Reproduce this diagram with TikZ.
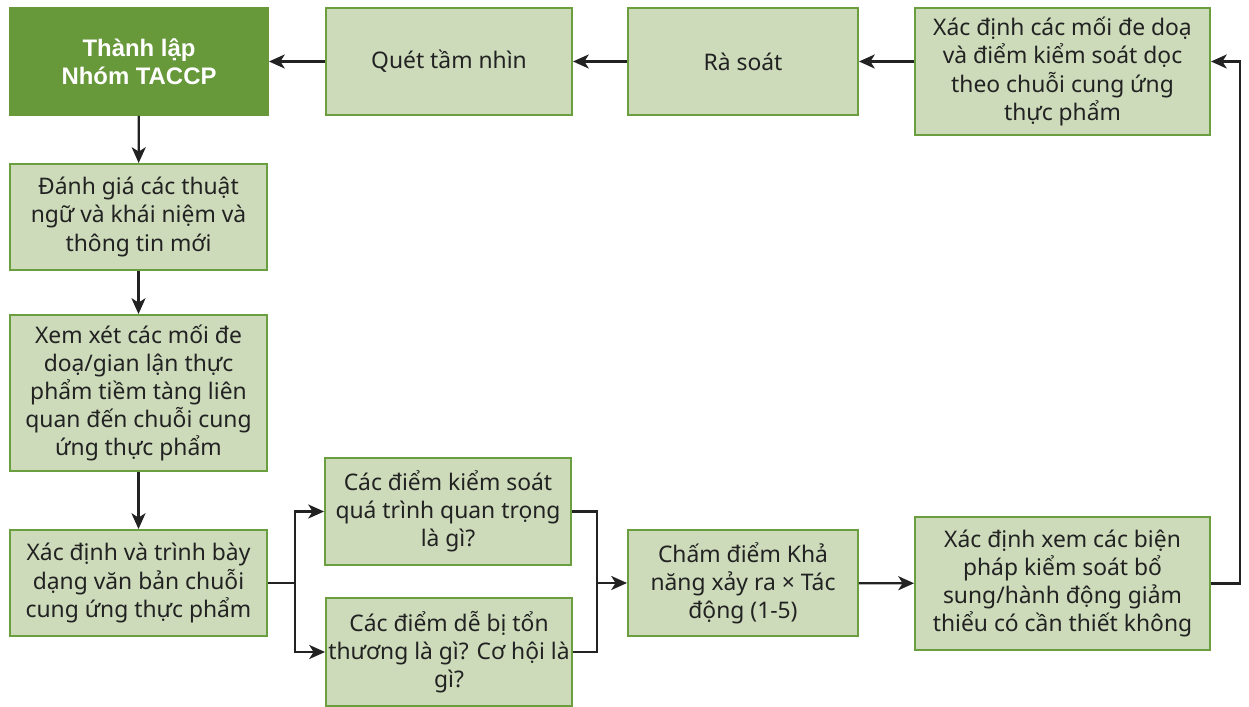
\documentclass[tikz,border=0pt]{standalone}
\usepackage{fontspec}
\setmainfont{Noto Sans}
\newfontfamily\headfont{Liberation Sans}
\usetikzlibrary{arrows.meta}
\definecolor{leafgreen}{HTML}{67983A}
\definecolor{palegreen}{HTML}{CDDBBA}
\definecolor{edgegreen}{HTML}{6B9E3F}
\definecolor{inkgray}{HTML}{222222}

\begin{document}
\begin{tikzpicture}[
  box/.style={draw=edgegreen, line width=1.1pt, fill=palegreen, text=inkgray,
    align=center, inner xsep=0pt, inner ysep=2pt, font=\fontsize{13}{16}\selectfont},
  head/.style={box, fill=leafgreen, draw=leafgreen, text=white,
    font=\fontsize{13.6}{16}\selectfont\headfont\bfseries},
  flow/.style={-{Stealth[length=9pt,width=8pt,inset=2.5pt]}, line width=1.3pt, draw=inkgray},
  link/.style={line width=1.3pt, draw=inkgray}]
\useasboundingbox (0,0) rectangle (24.98,14.12);
% top row
\node[head, minimum width=5.16cm, minimum height=2.14cm] (taccp) at (2.78,12.89) {Thành lập\\Nhóm TACCP};
\node[box, minimum width=4.92cm, minimum height=2.14cm] (quet) at (8.98,12.89) {Quét tầm nhìn};
\node[box, minimum width=4.6cm, minimum height=2.14cm] (rasoat) at (14.86,12.89) {Rà soát};
\node[box, minimum width=5.9cm, minimum height=2.54cm] (doa) at (21.25,12.69) {Xác định các mối đe doạ\\và điểm kiểm soát dọc\\theo chuỗi cung ứng\\thực phẩm};
% left column
\node[box, minimum width=5.14cm, minimum height=2.12cm] (danhgia) at (2.77,9.78) {Đánh giá các thuật\\ngữ và khái niệm và\\thông tin mới};
\node[box, minimum width=5.14cm, minimum height=3.12cm] (xemxet) at (2.77,6.26) {Xem xét các mối đe\\doạ/gian lận thực\\phẩm tiềm tàng liên\\quan đến chuỗi cung\\ứng thực phẩm};
\node[box, minimum width=5.14cm, minimum height=2.12cm] (trinhbay) at (2.77,2.46) {Xác định và trình bày\\dạng văn bản chuỗi\\cung ứng thực phẩm};
% bottom row
\node[box, minimum width=4.92cm, minimum height=2.14cm] (kiemsoat) at (8.96,3.89) {Các điểm kiểm soát\\quá trình quan trọng\\là gì?};
\node[box, minimum width=4.92cm, minimum height=2.16cm] (debi) at (8.98,1.08) {Các điểm dễ bị tổn\\thương là gì? Cơ hội là\\gì?};
\node[box, minimum width=4.6cm, minimum height=2.12cm] (chamdiem) at (14.86,2.46) {Chấm điểm Khả\\năng xảy ra × Tác\\động (1-5)};
\node[box, minimum width=5.9cm, minimum height=2.66cm] (bienphap) at (21.25,2.45) {Xác định xem các biện\\pháp kiểm soát bổ\\sung/hành động giảm\\thiểu có cần thiết không};
\coordinate (split) at (5.9,2.46);
\coordinate (join) at (11.94,2.46);
\coordinate (back) at (24.8,12.89);
% connectors
\draw[flow] (quet) -- (taccp);
\draw[flow] (rasoat) -- (quet);
\draw[flow] (doa.west |- rasoat.east) -- (rasoat.east);
\draw[flow] (taccp) -- (danhgia);
\draw[flow] (danhgia) -- (xemxet);
\draw[flow] (xemxet) -- (trinhbay);
\draw[link] (trinhbay.east) -- (split);
\draw[flow] (split) |- (kiemsoat.west);
\draw[flow] (split) |- (debi.west);
\draw[link] (kiemsoat.east) -| (join);
\draw[link] (debi.east) -| (join);
\draw[flow] (join) -- (chamdiem.west);
\draw[flow] (chamdiem) -- (bienphap);
\draw[flow] (bienphap.east) -| (back) -- (doa.east |- back);
\end{tikzpicture}
\end{document}
